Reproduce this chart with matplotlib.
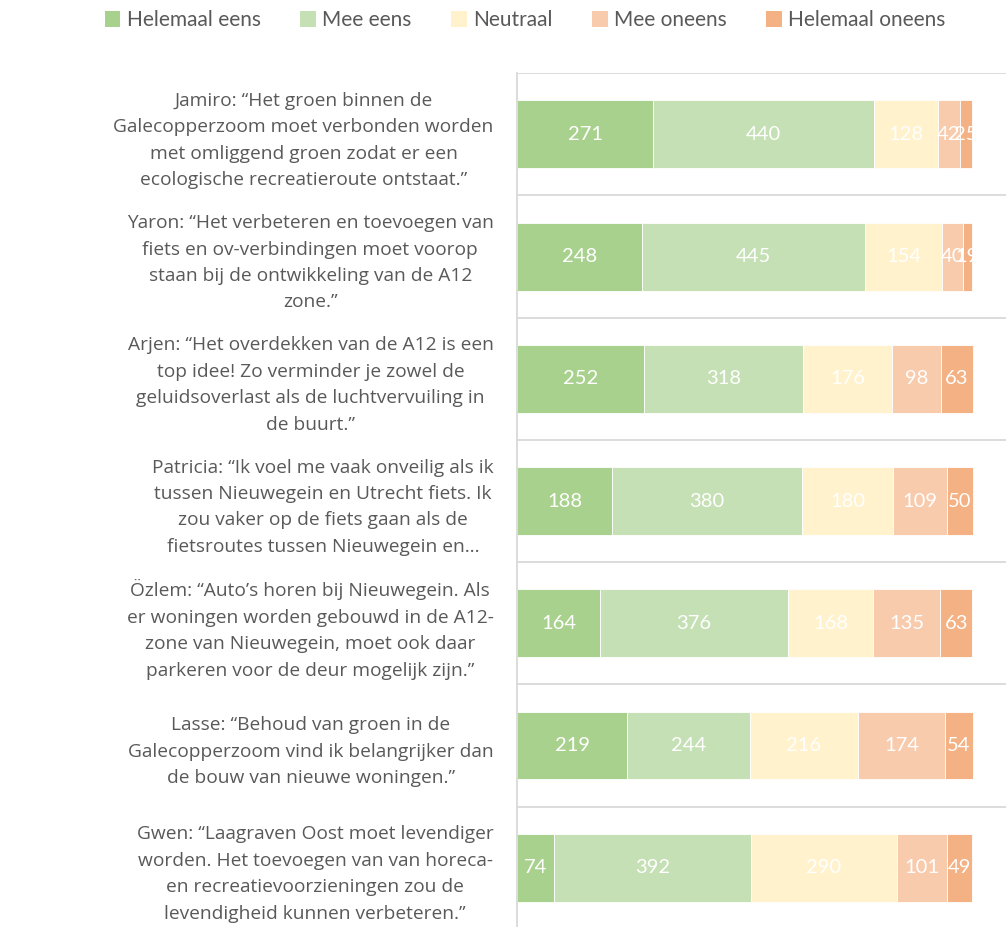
import numpy as np
import matplotlib
matplotlib.use("Agg")
import matplotlib.pyplot as plt
from matplotlib.patches import Patch

# survey statements (top to bottom)
statements = [
    "Jamiro: “Het groen binnen de\nGalecopperzoom moet verbonden worden\nmet omliggend groen zodat er een\necologische recreatieroute ontstaat.”",
    "Yaron: “Het verbeteren en toevoegen van\nfiets en ov-verbindingen moet voorop\nstaan bij de ontwikkeling van de A12\nzone.”",
    "Arjen: “Het overdekken van de A12 is een\ntop idee! Zo verminder je zowel de\ngeluidsoverlast als de luchtvervuiling in\nde buurt.”",
    "Patricia: “Ik voel me vaak onveilig als ik\ntussen Nieuwegein en Utrecht fiets. Ik\nzou vaker op de fiets gaan als de\nfietsroutes tussen Nieuwegein en…",
    "Özlem: “Auto’s horen bij Nieuwegein. Als\ner woningen worden gebouwd in de A12-\nzone van Nieuwegein, moet ook daar\nparkeren voor de deur mogelijk zijn.”",
    "Lasse: “Behoud van groen in de\nGalecopperzoom vind ik belangrijker dan\nde bouw van nieuwe woningen.”",
    "Gwen: “Laagraven Oost moet levendiger\nworden. Het toevoegen van van horeca-\nen recreatievoorzieningen zou de\nlevendigheid kunnen verbeteren.”",
]

answers = ["Helemaal eens", "Mee eens", "Neutraal", "Mee oneens", "Helemaal oneens"]

helemaal_eens = [271, 248, 252, 188, 164, 219, 74]
mee_eens = [440, 445, 318, 380, 376, 244, 392]
neutraal = [128, 154, 176, 180, 168, 216, 290]
mee_oneens = [42, 40, 98, 109, 135, 174, 101]
helemaal_oneens = [25, 19, 63, 50, 63, 54, 49]

colors = ["#A9D18E", "#C5E0B4", "#FFF2CC", "#F8CBAD", "#F4B183"]
grey = "#595959"
line_grey = "#D9D9D9"

series = [helemaal_eens, mee_eens, neutraal, mee_oneens, helemaal_oneens]

fig = plt.figure(figsize=(10.06, 9.27), dpi=100)
ax = fig.add_axes([0.5142, -0.002, 0.499, 0.923])

y = np.arange(len(statements))
left = np.zeros(len(statements))
for vals, col, name in zip(series, colors, answers):
    bars = ax.barh(y, vals, left=left, height=0.556, color=col,
                   edgecolor="white", linewidth=0.6, label=name)
    ax.bar_label(bars, labels=[str(v) for v in vals], label_type="center",
                 color="white", fontsize=14.5, family="Lato")
    left += np.array(vals)

ax.set_xlim(0, 1000)
ax.set_ylim(len(statements) - 0.5, -0.5)

# category labels
ax.set_yticks(y)
ax.set_yticklabels(statements, fontsize=13.8, family="Open Sans", color=grey,
                   ha="right", multialignment="center", linespacing=1.6)
ax.tick_params(axis="y", length=0, pad=17)
ax.set_xticks([])

# separators between categories
ax.set_yticks(np.arange(-0.5, len(statements)), minor=True)
ax.tick_params(axis="y", which="minor", length=0)
ax.grid(axis="y", which="minor", color=line_grey, linewidth=1.3)
ax.set_axisbelow(True)

for s in ["top", "right", "bottom"]:
    ax.spines[s].set_visible(False)
ax.spines["left"].set_color(line_grey)
ax.spines["left"].set_linewidth(1.3)

handles = [Patch(facecolor=c, edgecolor="none") for c in colors]
leg = fig.legend(handles, answers, loc="center", bbox_to_anchor=(0.522, 0.978),
                 ncol=5, frameon=False, handlelength=0.75, handleheight=0.75,
                 handletextpad=0.3, columnspacing=1.9,
                 prop={"family": "Lato", "size": 15})
for t in leg.get_texts():
    t.set_color(grey)

plt.savefig("out.png", dpi=100)
